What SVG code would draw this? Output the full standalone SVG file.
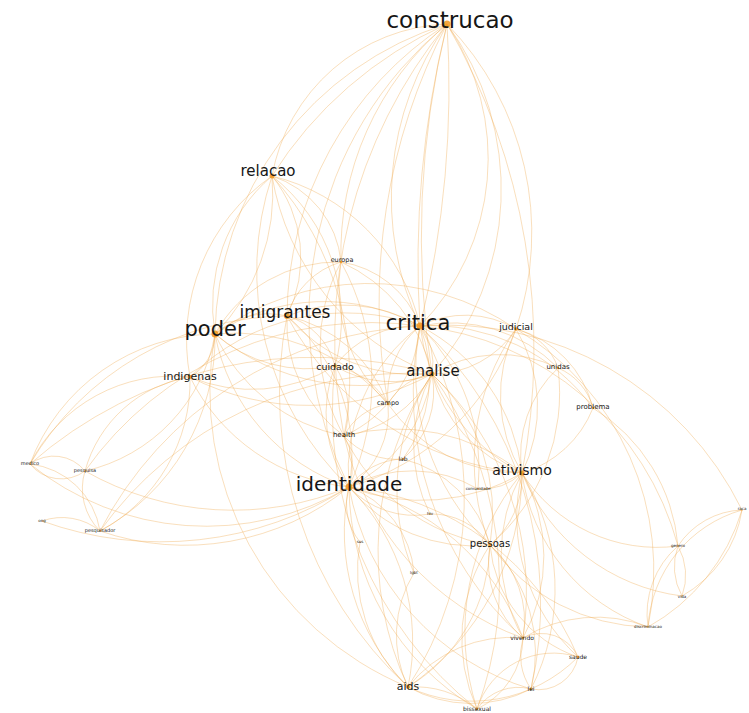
<svg xmlns="http://www.w3.org/2000/svg" width="749" height="713" viewBox="0 0 749 713">
<style>
.e path{fill:none;stroke:#eeaa52;stroke-opacity:0.45;stroke-width:0.85}
.n text{font-family:"DejaVu Sans","Liberation Sans",sans-serif;fill:#161616;text-anchor:middle;dominant-baseline:central}
.n circle{fill:#f0961f;fill-opacity:0.85}
</style>
<rect width="749" height="713" fill="#ffffff"/>
<g id="connectors" class="e">
<path d="M272 176A185 185 0 0 1 447 24"/>
<path d="M272 176A400 400 0 0 1 447 24"/>
<path d="M447 24A240 240 0 0 1 420 326"/>
<path d="M447 24A300 300 0 0 0 420 326"/>
<path d="M447 24A1000 1000 0 0 1 420 326"/>
<path d="M447 24A1000 1000 0 0 0 420 326"/>
<path d="M447 24A280 280 0 0 1 432 374"/>
<path d="M447 24A900 900 0 0 0 432 374"/>
<path d="M447 24A380 380 0 0 0 349 487"/>
<path d="M447 24A650 650 0 0 1 522 473"/>
<path d="M447 24A300 300 0 0 1 516 329"/>
<path d="M447 24A350 350 0 0 0 287 316"/>
<path d="M447 24A330 330 0 0 0 215 334"/>
<path d="M447 24A300 300 0 0 0 341 262"/>
<path d="M447 24A600 600 0 0 0 388 404"/>
<path d="M447 24A500 500 0 0 0 344 436"/>
<path d="M272 176A170 170 0 0 0 215 334"/>
<path d="M272 176A200 200 0 0 1 215 334"/>
<path d="M272 176A200 200 0 0 0 190 377"/>
<path d="M272 176A130 130 0 0 1 287 316"/>
<path d="M272 176A180 180 0 0 1 335 366"/>
<path d="M272 176A200 200 0 0 1 420 326"/>
<path d="M272 176A260 260 0 0 0 432 374"/>
<path d="M272 176A100 100 0 0 1 341 262"/>
<path d="M272 176A300 300 0 0 0 349 487"/>
<path d="M272 176A300 300 0 0 1 344 436"/>
<path d="M341 262A100 100 0 0 1 420 326"/>
<path d="M341 262A80 80 0 0 0 287 316"/>
<path d="M341 262A140 140 0 0 0 215 334"/>
<path d="M341 262A250 250 0 0 1 349 487"/>
<path d="M341 262A180 180 0 0 0 344 436"/>
<path d="M341 262A160 160 0 0 1 432 374"/>
<path d="M341 262A160 160 0 0 0 388 404"/>
<path d="M215 334A80 80 0 0 1 287 316"/>
<path d="M215 334A200 200 0 0 1 420 326"/>
<path d="M215 334A200 200 0 0 0 349 487"/>
<path d="M215 334A230 230 0 0 0 432 374"/>
<path d="M215 334A50 50 0 0 1 190 377"/>
<path d="M215 334A200 200 0 0 0 30 464"/>
<path d="M215 334A170 170 0 0 1 85 471"/>
<path d="M215 334A220 220 0 0 1 100 531"/>
<path d="M215 334A140 140 0 0 0 335 366"/>
<path d="M215 334A260 260 0 0 1 516 329"/>
<path d="M215 334A180 180 0 0 0 344 436"/>
<path d="M215 334A200 200 0 0 1 388 404"/>
<path d="M215 334A320 320 0 0 0 408 687"/>
<path d="M30 464A160 160 0 0 1 190 377"/>
<path d="M190 377A130 130 0 0 0 85 471"/>
<path d="M190 377A170 170 0 0 1 100 531"/>
<path d="M190 377A200 200 0 0 0 349 487"/>
<path d="M190 377A220 220 0 0 1 420 326"/>
<path d="M190 377A160 160 0 0 0 335 366"/>
<path d="M190 377A260 260 0 0 0 432 374"/>
<path d="M30 464A40 40 0 0 1 85 471"/>
<path d="M85 471A40 40 0 0 1 30 464"/>
<path d="M30 464A80 80 0 0 1 100 531"/>
<path d="M85 471A60 60 0 0 0 100 531"/>
<path d="M42 521A60 60 0 0 1 100 531"/>
<path d="M30 464A280 280 0 0 0 349 487"/>
<path d="M100 531A260 260 0 0 0 349 487"/>
<path d="M85 471A300 300 0 0 0 349 487"/>
<path d="M85 471A350 350 0 0 1 420 326"/>
<path d="M30 464A430 430 0 0 1 432 374"/>
<path d="M100 531A380 380 0 0 1 420 326"/>
<path d="M100 531A380 380 0 0 1 432 374"/>
<path d="M30 464A300 300 0 0 1 287 316"/>
<path d="M42 521A350 350 0 0 0 349 487"/>
<path d="M287 316A150 150 0 0 1 420 326"/>
<path d="M287 316A70 70 0 0 1 335 366"/>
<path d="M287 316A170 170 0 0 0 432 374"/>
<path d="M287 316A180 180 0 0 1 349 487"/>
<path d="M287 316A140 140 0 0 0 344 436"/>
<path d="M287 316A140 140 0 0 1 388 404"/>
<path d="M287 316A300 300 0 0 0 522 473"/>
<path d="M287 316A400 400 0 0 0 408 687"/>
<path d="M420 326A60 60 0 0 1 432 374"/>
<path d="M420 326A100 100 0 0 1 516 329"/>
<path d="M420 326A150 150 0 0 1 558 368"/>
<path d="M420 326A200 200 0 0 1 593 408"/>
<path d="M420 326A190 190 0 0 1 522 473"/>
<path d="M420 326A190 190 0 0 0 522 473"/>
<path d="M420 326A180 180 0 0 0 349 487"/>
<path d="M420 326A130 130 0 0 1 344 436"/>
<path d="M420 326A90 90 0 0 0 388 404"/>
<path d="M420 326A140 140 0 0 1 403 459"/>
<path d="M420 326A240 240 0 0 0 490 545"/>
<path d="M420 326A300 300 0 0 1 678 546"/>
<path d="M420 326A330 330 0 0 1 742 510"/>
<path d="M516 329A280 280 0 0 1 648 627"/>
<path d="M420 326A330 330 0 0 0 523 638"/>
<path d="M420 326A380 380 0 0 1 531 689"/>
<path d="M420 326A200 200 0 0 1 478 489"/>
<path d="M335 366A100 100 0 0 1 420 326"/>
<path d="M335 366A110 110 0 0 0 432 374"/>
<path d="M335 366A80 80 0 0 1 344 436"/>
<path d="M335 366A130 130 0 0 0 349 487"/>
<path d="M335 366A80 80 0 0 1 388 404"/>
<path d="M420 326A350 350 0 0 1 408 687"/>
<path d="M335 366A380 380 0 0 0 477 709"/>
<path d="M432 374A150 150 0 0 1 349 487"/>
<path d="M432 374A140 140 0 0 0 522 473"/>
<path d="M432 374A120 120 0 0 1 344 436"/>
<path d="M432 374A60 60 0 0 0 388 404"/>
<path d="M432 374A190 190 0 0 1 490 545"/>
<path d="M432 374A90 90 0 0 1 403 459"/>
<path d="M432 374A100 100 0 0 0 516 329"/>
<path d="M432 374A130 130 0 0 1 558 368"/>
<path d="M432 374A150 150 0 0 0 430 514"/>
<path d="M432 374A320 320 0 0 0 408 687"/>
<path d="M432 374A360 360 0 0 1 477 709"/>
<path d="M432 374A300 300 0 0 1 523 638"/>
<path d="M432 374A210 210 0 0 0 414 573"/>
<path d="M516 329A60 60 0 0 1 558 368"/>
<path d="M516 329A110 110 0 0 1 593 408"/>
<path d="M516 329A150 150 0 0 0 522 473"/>
<path d="M516 329A150 150 0 0 1 522 473"/>
<path d="M516 329A230 230 0 0 0 490 545"/>
<path d="M558 368A60 60 0 0 1 593 408"/>
<path d="M558 368A120 120 0 0 0 522 473"/>
<path d="M593 408A110 110 0 0 1 522 473"/>
<path d="M516 329A250 250 0 0 1 349 487"/>
<path d="M558 368A200 200 0 0 1 490 545"/>
<path d="M593 408A180 180 0 0 1 678 546"/>
<path d="M522 473A90 90 0 0 1 490 545"/>
<path d="M522 473A170 170 0 0 1 523 638"/>
<path d="M522 473A170 170 0 0 0 523 638"/>
<path d="M522 473A190 190 0 0 0 578 657"/>
<path d="M522 473A220 220 0 0 1 531 689"/>
<path d="M522 473A250 250 0 0 0 477 709"/>
<path d="M522 473A260 260 0 0 1 408 687"/>
<path d="M522 473A60 60 0 0 1 478 489"/>
<path d="M522 473A160 160 0 0 0 678 546"/>
<path d="M522 473A190 190 0 0 0 648 627"/>
<path d="M522 473A200 200 0 0 0 682 596"/>
<path d="M522 473A200 200 0 0 1 349 487"/>
<path d="M742 510A130 130 0 0 0 648 627"/>
<path d="M742 510A200 200 0 0 1 648 627"/>
<path d="M678 546A60 60 0 0 1 682 596"/>
<path d="M682 596A60 60 0 0 1 678 546"/>
<path d="M678 546A90 90 0 0 0 648 627"/>
<path d="M742 510A80 80 0 0 0 678 546"/>
<path d="M742 510A120 120 0 0 1 682 596"/>
<path d="M349 487A160 160 0 0 0 490 545"/>
<path d="M349 487A220 220 0 0 1 408 687"/>
<path d="M349 487A220 220 0 0 0 408 687"/>
<path d="M349 487A60 60 0 0 0 360 542"/>
<path d="M349 487A100 100 0 0 1 414 573"/>
<path d="M349 487A260 260 0 0 0 477 709"/>
<path d="M349 487A240 240 0 0 1 523 638"/>
<path d="M349 487A260 260 0 0 0 531 689"/>
<path d="M349 487A280 280 0 0 1 578 657"/>
<path d="M349 487A130 130 0 0 1 478 489"/>
<path d="M349 487A90 90 0 0 0 430 514"/>
<path d="M349 487A70 70 0 0 1 403 459"/>
<path d="M349 487A60 60 0 0 0 344 436"/>
<path d="M344 436A60 60 0 0 1 388 404"/>
<path d="M344 436A70 70 0 0 0 403 459"/>
<path d="M344 436A200 200 0 0 1 522 473"/>
<path d="M344 436A200 200 0 0 0 490 545"/>
<path d="M388 404A90 90 0 0 1 349 487"/>
<path d="M388 404A160 160 0 0 0 522 473"/>
<path d="M403 459A120 120 0 0 1 490 545"/>
<path d="M430 514A70 70 0 0 1 490 545"/>
<path d="M490 545A100 100 0 0 1 523 638"/>
<path d="M490 545A100 100 0 0 0 523 638"/>
<path d="M490 545A130 130 0 0 0 578 657"/>
<path d="M490 545A150 150 0 0 1 531 689"/>
<path d="M490 545A170 170 0 0 0 477 709"/>
<path d="M490 545A170 170 0 0 1 408 687"/>
<path d="M523 638A40 40 0 0 1 578 657"/>
<path d="M523 638A60 60 0 0 0 531 689"/>
<path d="M523 638A80 80 0 0 1 477 709"/>
<path d="M523 638A130 130 0 0 0 408 687"/>
<path d="M578 657A40 40 0 0 1 531 689"/>
<path d="M578 657A80 80 0 0 0 477 709"/>
<path d="M578 657A150 150 0 0 1 408 687"/>
<path d="M531 689A50 50 0 0 0 477 709"/>
<path d="M408 687A100 100 0 0 1 477 709"/>
<path d="M408 687A130 130 0 0 0 531 689"/>
<path d="M408 687A120 120 0 0 1 414 573"/>
<path d="M360 542A160 160 0 0 0 408 687"/>
<path d="M344 436A280 280 0 0 0 523 638"/>
<path d="M490 545A200 200 0 0 0 648 627"/>
<path d="M523 638A140 140 0 0 1 648 627"/>
</g>
<g id="n-construcao" class="n"><circle cx="447" cy="24" r="3.5"/><text x="450" y="20" font-size="23">construcao</text></g>
<g id="n-relacao" class="n"><circle cx="272" cy="176" r="2.5"/><text x="268" y="171" font-size="15">relacao</text></g>
<g id="n-europa" class="n"><circle cx="341" cy="262" r="1.2"/><text x="342" y="260" font-size="6.5">europa</text></g>
<g id="n-imigrantes" class="n"><circle cx="287" cy="316" r="3"/><text x="285" y="312" font-size="17">imigrantes</text></g>
<g id="n-poder" class="n"><circle cx="215" cy="334" r="3.5"/><text x="215" y="329" font-size="21">poder</text></g>
<g id="n-critica" class="n"><circle cx="420" cy="326" r="3.5"/><text x="418" y="323" font-size="21">critica</text></g>
<g id="n-judicial" class="n"><circle cx="516" cy="329" r="1.8"/><text x="516" y="326" font-size="9.5">judicial</text></g>
<g id="n-cuidado" class="n"><circle cx="335" cy="366" r="1.8"/><text x="335" y="366" font-size="9.5">cuidado</text></g>
<g id="n-indigenas" class="n"><circle cx="190" cy="377" r="2"/><text x="190" y="376" font-size="11">indigenas</text></g>
<g id="n-analise" class="n"><circle cx="432" cy="374" r="2.5"/><text x="433" y="371" font-size="15">analise</text></g>
<g id="n-unidas" class="n"><circle cx="558" cy="368" r="1.2"/><text x="558" y="367" font-size="7">unidas</text></g>
<g id="n-campo" class="n"><circle cx="388" cy="404" r="1.2"/><text x="388" y="403" font-size="6.5">campo</text></g>
<g id="n-problema" class="n"><circle cx="593" cy="408" r="1.2"/><text x="593" y="407" font-size="7">problema</text></g>
<g id="n-health" class="n"><circle cx="344" cy="436" r="1.2"/><text x="344" y="435" font-size="7">health</text></g>
<g id="n-lab" class="n"><circle cx="403" cy="459" r="1"/><text x="403" y="458" font-size="6">lab</text></g>
<g id="n-ativismo" class="n"><circle cx="522" cy="473" r="2.5"/><text x="522" y="470" font-size="14">ativismo</text></g>
<g id="n-identidade" class="n"><circle cx="349" cy="487" r="3.5"/><text x="349" y="484" font-size="20">identidade</text></g>
<g id="n-comunidade" class="n"><circle cx="478" cy="489" r="0.8"/><text x="478" y="488" font-size="4">comunidade</text></g>
<g id="n-hiv" class="n"><circle cx="430" cy="514" r="0.8"/><text x="430" y="513" font-size="4">hiv</text></g>
<g id="n-medico" class="n"><circle cx="30" cy="464" r="0.8"/><text x="30" y="463" font-size="5">medico</text></g>
<g id="n-pesquisa" class="n"><circle cx="85" cy="471" r="0.8"/><text x="85" y="470" font-size="5">pesquisa</text></g>
<g id="n-ong" class="n"><circle cx="42" cy="521" r="0.6"/><text x="42" y="520" font-size="4">ong</text></g>
<g id="n-pesquisador" class="n"><circle cx="100" cy="531" r="0.8"/><text x="100" y="530" font-size="5">pesquisador</text></g>
<g id="n-sus" class="n"><circle cx="360" cy="542" r="0.6"/><text x="360" y="541" font-size="4">sus</text></g>
<g id="n-lgbt" class="n"><circle cx="414" cy="573" r="0.6"/><text x="414" y="572" font-size="4">lgbt</text></g>
<g id="n-pessoas" class="n"><circle cx="490" cy="545" r="1.8"/><text x="490" y="543" font-size="10">pessoas</text></g>
<g id="n-raca" class="n"><circle cx="742" cy="510" r="0.6"/><text x="742" y="508" font-size="4">raca</text></g>
<g id="n-genero" class="n"><circle cx="678" cy="546" r="0.6"/><text x="678" y="545" font-size="4">genero</text></g>
<g id="n-vida" class="n"><circle cx="682" cy="596" r="0.6"/><text x="682" y="596" font-size="4">vida</text></g>
<g id="n-discriminacao" class="n"><circle cx="648" cy="627" r="0.6"/><text x="648" y="626" font-size="4">discriminacao</text></g>
<g id="n-vivendo" class="n"><circle cx="523" cy="638" r="1.2"/><text x="522" y="637" font-size="6">vivendo</text></g>
<g id="n-saude" class="n"><circle cx="578" cy="657" r="1.2"/><text x="578" y="656" font-size="6">saude</text></g>
<g id="n-aids" class="n"><circle cx="408" cy="687" r="2"/><text x="408" y="686" font-size="11">aids</text></g>
<g id="n-lei" class="n"><circle cx="531" cy="689" r="1.2"/><text x="531" y="688" font-size="6">lei</text></g>
<g id="n-bissexual" class="n"><circle cx="477" cy="709" r="1.2"/><text x="477" y="708" font-size="6">bissexual</text></g>
</svg>
